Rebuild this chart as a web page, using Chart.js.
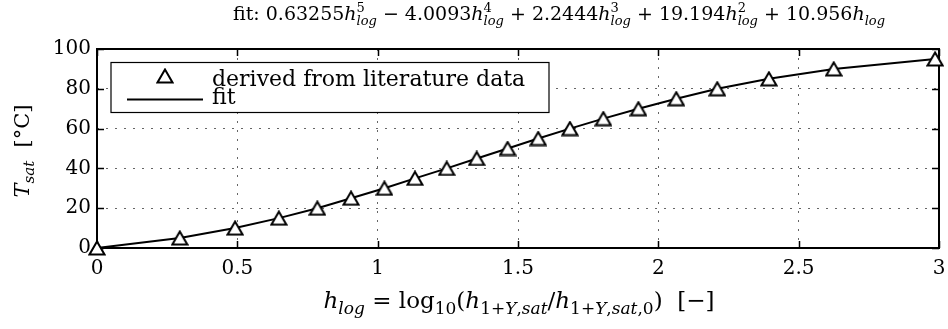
<!DOCTYPE html>
<html>
<head>
<meta charset="utf-8">
<script src="https://cdn.jsdelivr.net/npm/chart.js@4.4.1/dist/chart.umd.min.js"></script>
<style>
  html, body { margin: 0; padding: 0; background: #fff; }
  #wrap { width: 948px; height: 329px; }
</style>
</head>
<body>
<div id="wrap"><canvas id="satChart" width="948" height="329"></canvas></div>
<script>
// saturation temperature vs. log enthalpy ratio
var hLog = [0, 0.295, 0.492, 0.648, 0.785, 0.905, 1.024, 1.133, 1.246, 1.353,
            1.463, 1.572, 1.685, 1.804, 1.929, 2.064, 2.210, 2.394, 2.625, 2.986];
var tSat = [0, 5, 10, 15, 20, 25, 30, 35, 40, 45,
            50, 55, 60, 65, 70, 75, 80, 85, 90, 95];
var xTicks = [0, 0.5, 1, 1.5, 2, 2.5, 3];
var yTicks = [0, 20, 40, 60, 80, 100];
var fitCoeffs = ['0.63255', '4.0093', '2.2444', '19.194', '10.956'];

var FONT = '"DejaVu Serif", "Liberation Serif", serif';

// open triangle marker, centred on its bounding box
function makeTriangle() {
    var c = document.createElement('canvas');
    c.width = 18; c.height = 16;
    var g = c.getContext('2d');
    g.beginPath();
    g.moveTo(9, 1.5);
    g.lineTo(16.5, 14.5);
    g.lineTo(1.5, 14.5);
    g.closePath();
    g.fillStyle = '#fff';
    g.fill();
    g.lineWidth = 2;
    g.strokeStyle = '#000';
    g.stroke();
    return c;
}
var triangle = makeTriangle();

// very small mathtext-ish renderer: {t, it} plain, {sub, it} / {sup} scripts
function segFont(seg, size, script, k) {
    var s = script ? Math.round(size * k) : size;
    return (seg.it ? 'italic ' : '') + s + 'px ' + FONT;
}
function richWidth(ctx, segs, size, k) {
    var w = 0;
    segs.forEach(function (s) {
        if (s.t !== undefined) {
            ctx.font = segFont(s, size, false, k);
            w += ctx.measureText(s.t).width;
        } else {
            var a = 0, b = 0;
            if (s.sup !== undefined) { ctx.font = segFont({}, size, true, k); a = ctx.measureText(s.sup).width; }
            if (s.sub !== undefined) { ctx.font = segFont(s, size, true, k); b = ctx.measureText(s.sub).width; }
            w += Math.max(a, b);
        }
    });
    return w;
}
function drawRich(ctx, segs, x, y, size, k) {
    ctx.textAlign = 'left';
    ctx.textBaseline = 'alphabetic';
    ctx.fillStyle = '#000';
    segs.forEach(function (s) {
        if (s.t !== undefined) {
            ctx.font = segFont(s, size, false, k);
            ctx.fillText(s.t, x, y);
            x += ctx.measureText(s.t).width;
        } else {
            var a = 0, b = 0;
            if (s.sup !== undefined) {
                ctx.font = segFont({}, size, true, k);
                ctx.fillText(s.sup, x, y - size * 0.42);
                a = ctx.measureText(s.sup).width;
            }
            if (s.sub !== undefined) {
                ctx.font = segFont(s, size, true, k);
                ctx.fillText(s.sub, x, y + size * 0.25);
                b = ctx.measureText(s.sub).width;
            }
            x += Math.max(a, b);
        }
    });
}

function hTerm(power) {
    var out = [{ t: 'h', it: true }];
    out.push(power > 1 ? { sup: String(power), sub: 'log', it: true } : { sub: 'log', it: true });
    return out;
}
var titleSegs = [{ t: 'fit: ' + fitCoeffs[0] }].concat(hTerm(5),
    [{ t: ' \u2212 ' + fitCoeffs[1] }], hTerm(4),
    [{ t: ' + ' + fitCoeffs[2] }], hTerm(3),
    [{ t: ' + ' + fitCoeffs[3] }], hTerm(2),
    [{ t: ' + ' + fitCoeffs[4] }], hTerm(1));

var xLabelSegs = [
    { t: 'h', it: true }, { sub: 'log', it: true },
    { t: ' = log' }, { sub: '10' }, { t: '(' },
    { t: 'h', it: true }, { sub: '1+' }, { sub: 'Y', it: true }, { sub: ',' }, { sub: 'sat', it: true },
    { t: '/' },
    { t: 'h', it: true }, { sub: '1+' }, { sub: 'Y', it: true }, { sub: ',' }, { sub: 'sat', it: true }, { sub: ',0' },
    { t: ')  [\u2212]' }
];
var yLabelSegs = [{ t: 'T', it: true }, { sub: 'sat', it: true }, { t: '  [\u00b0C]' }];

var decorations = {
    id: 'decorations',
    beforeDatasetsDraw: function (chart) {
        var ctx = chart.ctx, a = chart.chartArea;
        var xs = chart.scales.x, ys = chart.scales.y;
        ctx.save();
        ctx.strokeStyle = '#000';
        ctx.lineWidth = 1.5;
        // inward ticks on all four sides
        ctx.beginPath();
        xTicks.forEach(function (v) {
            var px = Math.round(xs.getPixelForValue(v)) + 0.5;
            ctx.moveTo(px, a.bottom); ctx.lineTo(px, a.bottom - 7);
            ctx.moveTo(px, a.top); ctx.lineTo(px, a.top + 7);
        });
        yTicks.forEach(function (v) {
            var py = Math.round(ys.getPixelForValue(v)) + 0.5;
            ctx.moveTo(a.left, py); ctx.lineTo(a.left + 7, py);
            ctx.moveTo(a.right, py); ctx.lineTo(a.right - 7, py);
        });
        ctx.stroke();
        ctx.lineWidth = 2;
        ctx.strokeRect(a.left, a.top, a.right - a.left, a.bottom - a.top);
        ctx.restore();
    },
    afterDraw: function (chart) {
        var ctx = chart.ctx, a = chart.chartArea;
        ctx.save();
        // title
        drawRich(ctx, titleSegs, 233, 20, 19, 0.7);
        // x axis label
        var size = 23;
        var w = richWidth(ctx, xLabelSegs, size, 0.73);
        drawRich(ctx, xLabelSegs, 519 - w / 2, 308, size, 0.73);
        // y axis label
        size = 21;
        w = richWidth(ctx, yLabelSegs, size, 0.7);
        ctx.translate(29, 151 + w / 2);
        ctx.rotate(-Math.PI / 2);
        drawRich(ctx, yLabelSegs, 0, 0, size, 0.7);
        ctx.restore();

        // legend box
        ctx.save();
        ctx.fillStyle = '#fff';
        ctx.fillRect(111, 62.5, 438, 50);
        ctx.strokeStyle = '#000';
        ctx.lineWidth = 1.2;
        ctx.strokeRect(111, 62.5, 438, 50);
        ctx.drawImage(triangle, 165 - 9, 76 - 8);
        ctx.lineWidth = 2;
        ctx.beginPath();
        ctx.moveTo(127, 99.5);
        ctx.lineTo(203, 99.5);
        ctx.stroke();
        ctx.fillStyle = '#000';
        ctx.font = '22px ' + FONT;
        ctx.textBaseline = 'alphabetic';
        ctx.fillText(chart.data.datasets[0].label, 212, 86);
        ctx.fillText(chart.data.datasets[1].label, 212, 104);
        ctx.restore();
    }
};

var points = hLog.map(function (h, i) { return { x: h, y: tSat[i] }; });

var config = {
    type: 'scatter',
    data: {
        datasets: [{
            label: 'derived from literature data',
            data: points,
            showLine: false,
            pointStyle: triangle,
            pointRadius: 8,
            pointHoverRadius: 8,
            clip: false,
            order: 0
        }, {
            label: 'fit',
            data: points,
            showLine: true,
            borderColor: '#000',
            borderWidth: 2,
            pointRadius: 0,
            pointHoverRadius: 0,
            clip: false,
            order: 1
        }]
    },
    options: {
        responsive: false,
        animation: false,
        events: [],
        layout: { padding: { left: 0, right: 0, top: 49, bottom: 0 } },
        plugins: {
            legend: { display: false },
            title: { display: false },
            tooltip: { enabled: false }
        },
        scales: {
            x: {
                type: 'linear',
                min: 0,
                max: 3,
                afterBuildTicks: function (scale) {
                    scale.ticks = xTicks.map(function (v) { return { value: v }; });
                },
                afterFit: function (scale) {
                    scale.height = 81;
                    scale.paddingRight = 7;
                },
                ticks: {
                    color: '#000',
                    padding: 9,
                    maxRotation: 0,
                    font: { family: FONT, size: 20 },
                    callback: function (v) { return String(v); }
                },
                grid: { color: 'rgba(0,0,0,0.6)', lineWidth: 1, drawTicks: false },
                border: { display: false, dash: [2, 7] }
            },
            y: {
                type: 'linear',
                min: 0,
                max: 100,
                afterBuildTicks: function (scale) {
                    scale.ticks = yTicks.map(function (v) { return { value: v }; });
                },
                afterFit: function (scale) { scale.width = 97; },
                ticks: {
                    color: '#000',
                    padding: 6,
                    font: { family: FONT, size: 20 },
                    callback: function (v) { return String(v); }
                },
                grid: { color: 'rgba(0,0,0,0.6)', lineWidth: 1, drawTicks: false },
                border: { display: false, dash: [2, 7] }
            }
        }
    },
    plugins: [decorations]
};

new Chart(document.getElementById('satChart').getContext('2d'), config);
</script>
</body>
</html>
